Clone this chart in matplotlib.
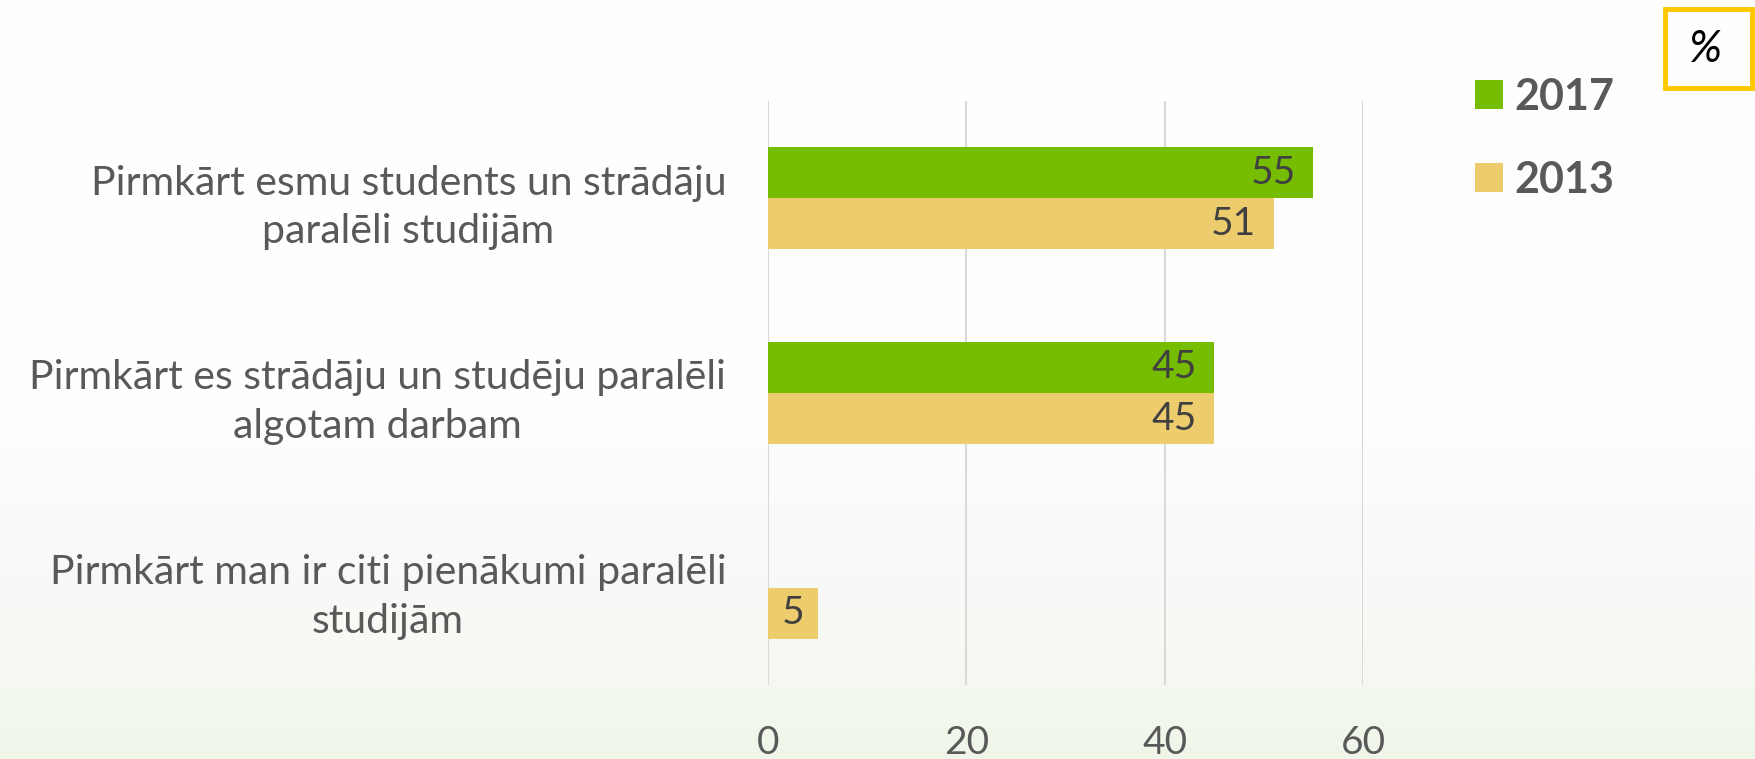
import matplotlib
matplotlib.use("Agg")
import matplotlib.pyplot as plt
import numpy as np
from matplotlib.colors import LinearSegmentedColormap
from matplotlib.patches import Rectangle

categories = ["Pirmkārt esmu students un strādāju\nparalēli studijām",
              "Pirmkārt es strādāju un studēju paralēli\nalgotam darbam",
              "Pirmkārt man ir citi pienākumi paralēli\nstudijām"]
series_names = ["2017", "2013"]
values_2017 = [55, 45, 0]
values_2013 = [51, 45, 5]
xticks = [0, 20, 40, 60]

GREEN = "#76BC00"
YELLOW = "#EDCC6E"
TXT = "#595959"
LBL = "#404040"
FONT = "Lato"

plt.rcParams['font.family'] = [FONT, 'DejaVu Sans']

W, H = 1756, 759
fig = plt.figure(figsize=(W/100, H/100), dpi=100)

# background gradient
bg = fig.add_axes([0, 0, 1, 1], zorder=-10)
cmap = LinearSegmentedColormap.from_list("bg", [(0, "#EFF6E8"), (0.12, "#F6F9F3"), (0.3, "#FAFAFA"), (0.45, "#FEFEFE"), (1, "#FFFFFF")])
grad = np.linspace(0, 1, 256).reshape(-1, 1)
bg.imshow(grad, aspect='auto', cmap=cmap, origin='lower', extent=[0, 1, 0, 1])
bg.axis('off')

ax = fig.add_axes([768/W, 1-685/H, (1363-768)/W, (685-101)/H])
ax.patch.set_alpha(0)
y = np.arange(len(categories))
h = 0.262
b1 = ax.barh(y - h/2, values_2017, height=h, color=GREEN, label=series_names[0], zorder=3)
b2 = ax.barh(y + h/2, values_2013, height=h, color=YELLOW, label=series_names[1], zorder=3)

for bars, vals in ((b1, values_2017), (b2, values_2013)):
    for bar, v in zip(bars, vals):
        if v == 0:
            continue
        off = 1.8 if v >= 10 else 1.3
        ax.text(bar.get_width() - off, bar.get_y() + bar.get_height()/2, f"{v}",
                ha='right', va='center', fontsize=28, color=LBL, zorder=4)

ax.set_xlim(0, 60)
ax.set_ylim(len(categories) - 0.5, -0.5)
ax.set_xticks(xticks)
ax.set_xticklabels([str(t) for t in xticks])
ax.set_yticks(y)
ax.set_yticklabels(categories, multialignment='center', linespacing=1.38)
ax.tick_params(axis='y', length=0, pad=30, labelsize=29.5, labelcolor=TXT)
ax.tick_params(axis='x', length=0, pad=29, labelsize=28, labelcolor=TXT)
for s in ax.spines.values():
    s.set_visible(False)
ax.grid(axis='x', color="#D9D9D9", linewidth=1.5, zorder=0)
ax.set_axisbelow(True)

# legend
leg = fig.legend(handles=[b1, b2], labels=series_names, loc='upper left',
                 bbox_to_anchor=(1436/W, 1-38/H), frameon=False,
                 prop={'family': FONT, 'weight': 'bold', 'size': 31},
                 labelcolor=TXT, handlelength=0.66, handleheight=0.66,
                 handletextpad=0.25, labelspacing=1.0)

# % box
fig.patches.append(Rectangle((1665/W, 1-88/H), (1752-1665)/W, (88-9)/H,
                             transform=fig.transFigure, fill=False,
                             edgecolor="#FFC800", linewidth=3.5))
fig.text(1705/W, 1-50/H, "%", ha='center', va='center', fontsize=32,
         style='italic', color='black')

fig.savefig("out.png", dpi=100)
